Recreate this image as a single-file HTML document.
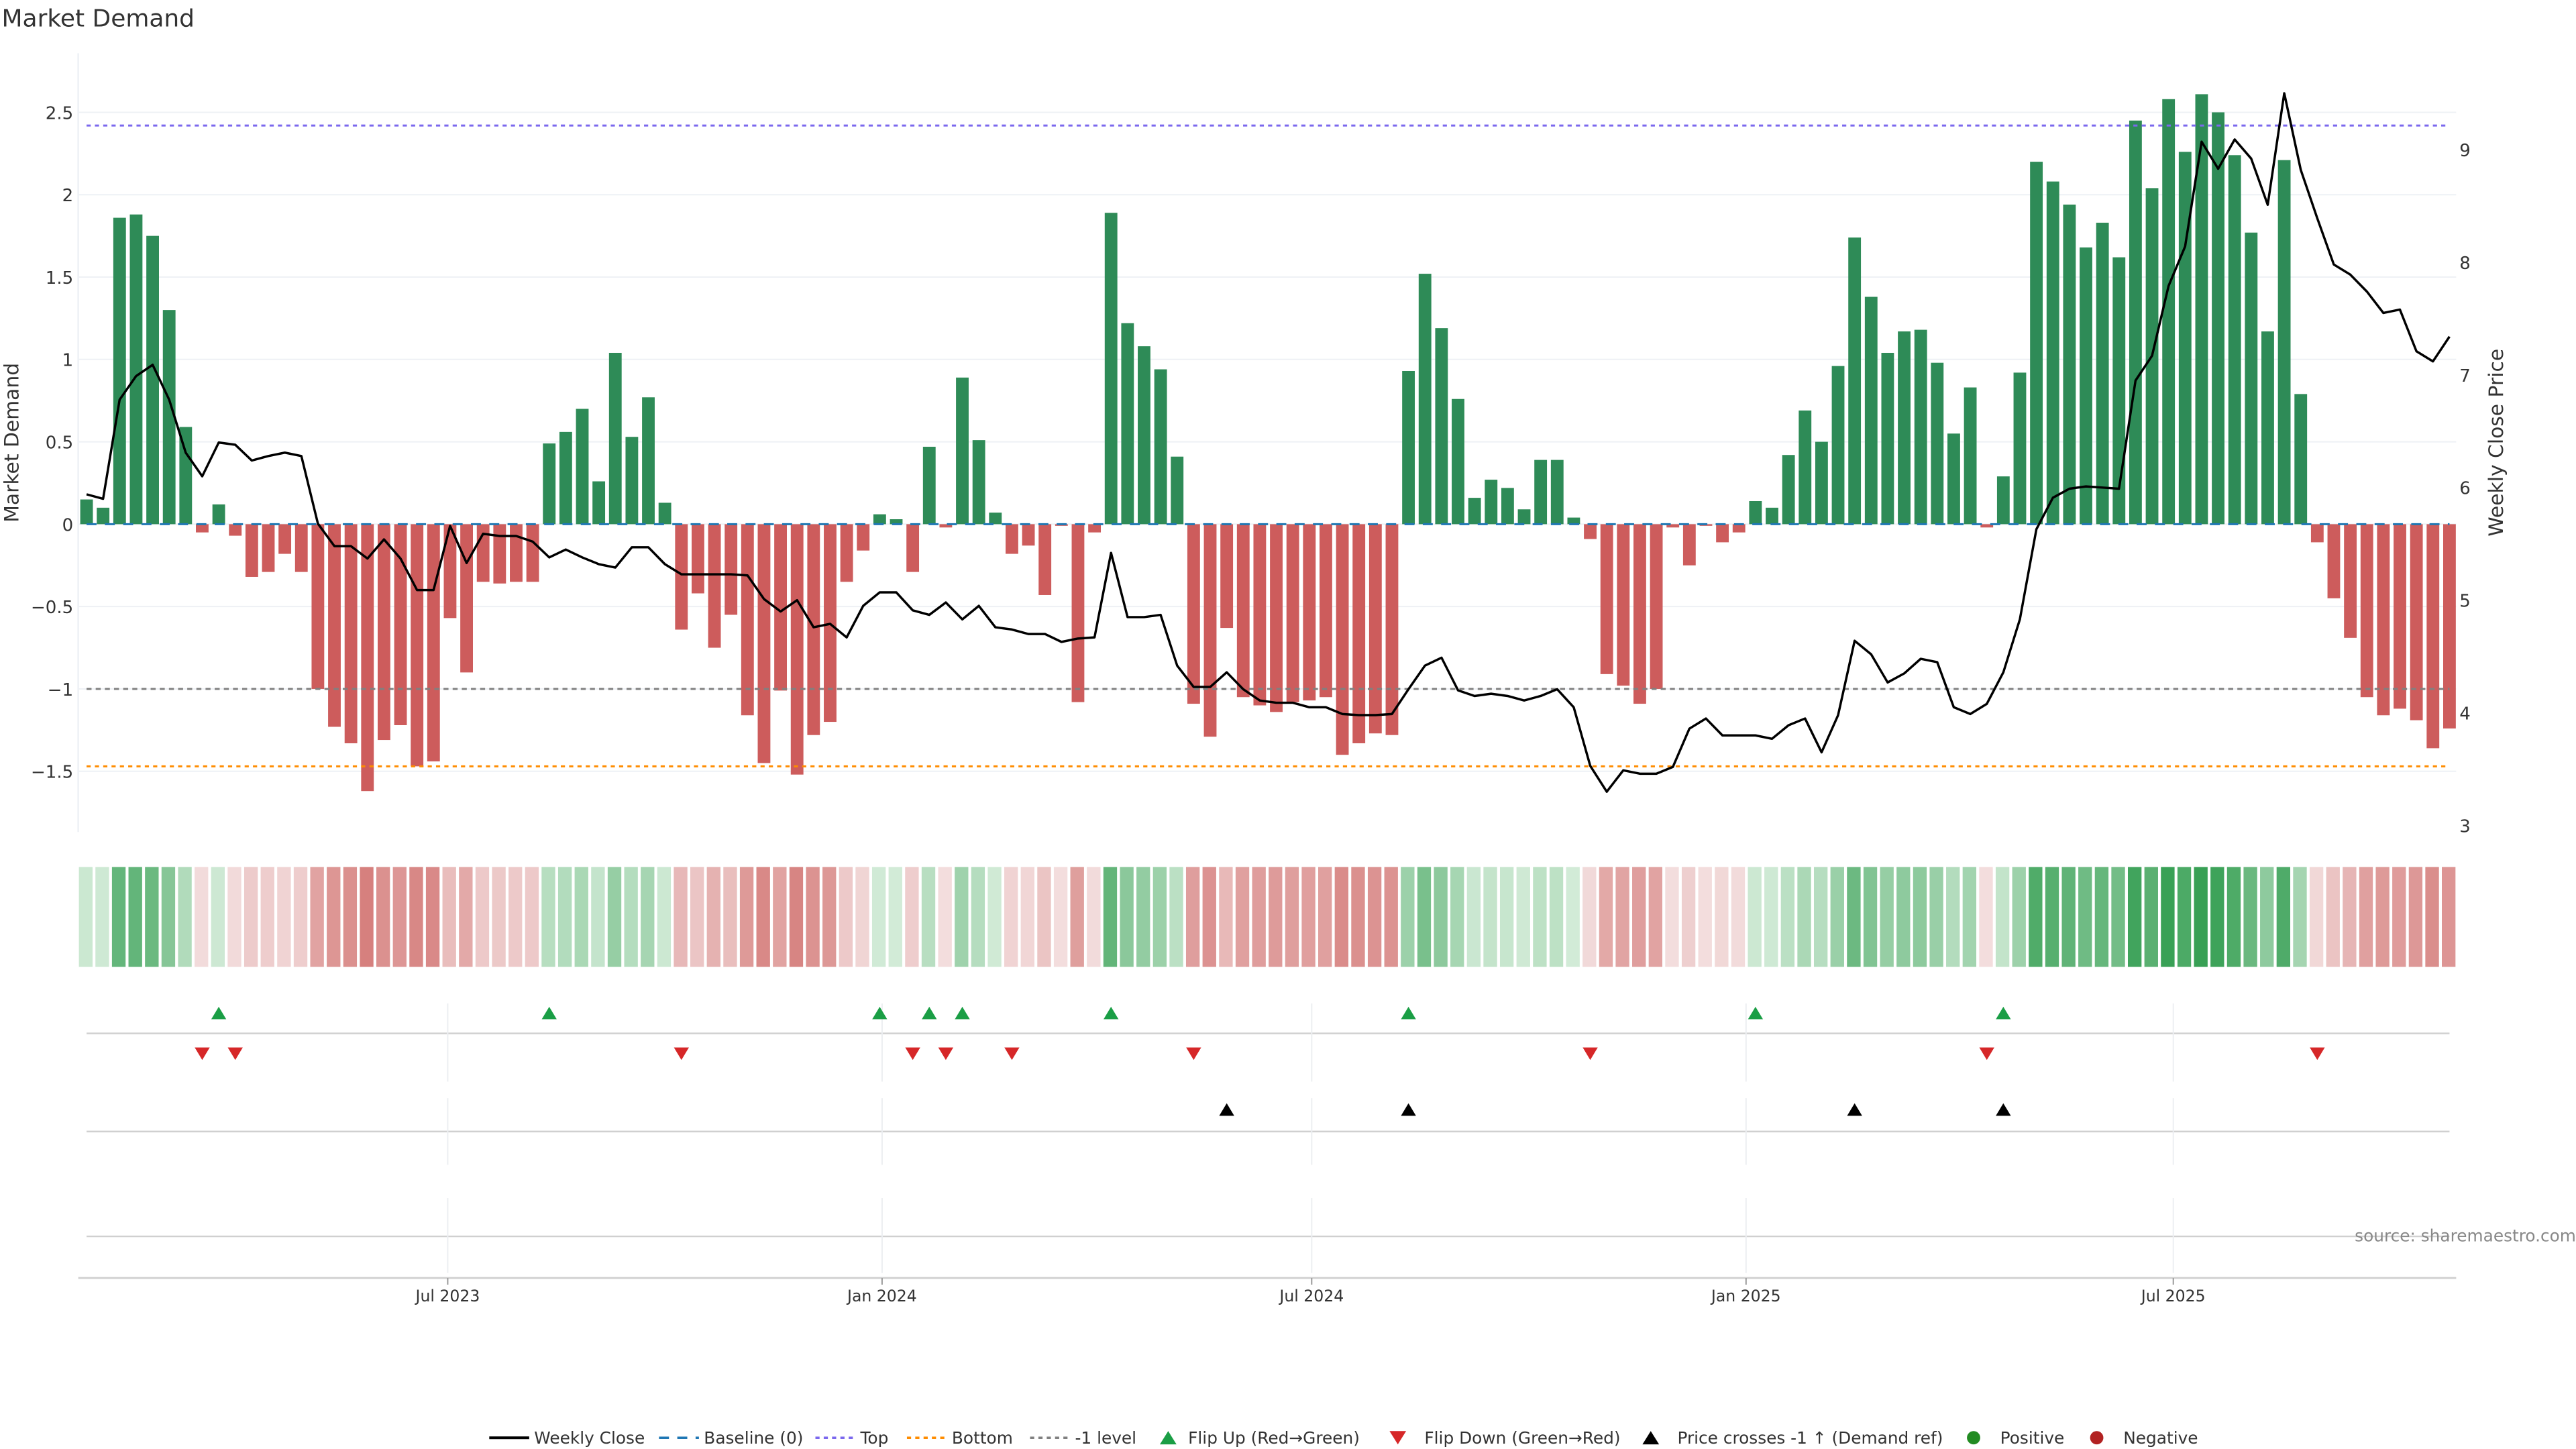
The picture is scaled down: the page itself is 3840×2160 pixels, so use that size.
<!DOCTYPE html>
<html><head><meta charset="utf-8"><title>Market Demand</title>
<style>
html,body{margin:0;padding:0;background:#fff;}
svg{display:block;font-family:"DejaVu Sans","Liberation Sans",sans-serif;}
</style></head>
<body>
<svg id="chart" width="3840" height="2160" viewBox="0 0 1548 870.77" xmlns="http://www.w3.org/2000/svg">
<text x="1" y="16" font-size="14.5" fill="#333">Market Demand</text>
<g id="grid"></g><g id="bars"></g><g id="lines"></g><g id="heat"></g><g id="events"></g><g id="axes"></g><g id="legend"></g>
</svg>
<script>
const demand=[0.15,0.10,1.86,1.88,1.75,1.30,0.59,-0.05,0.12,-0.07,-0.32,-0.29,-0.18,-0.29,-1.00,-1.23,-1.33,-1.62,-1.31,-1.22,-1.47,-1.44,-0.57,-0.90,-0.35,-0.36,-0.35,-0.35,0.49,0.56,0.70,0.26,1.04,0.53,0.77,0.13,-0.64,-0.42,-0.75,-0.55,-1.16,-1.45,-1.01,-1.52,-1.28,-1.20,-0.35,-0.16,0.06,0.03,-0.29,0.47,-0.02,0.89,0.51,0.07,-0.18,-0.13,-0.43,-0.01,-1.08,-0.05,1.89,1.22,1.08,0.94,0.41,-1.09,-1.29,-0.63,-1.05,-1.10,-1.14,-1.08,-1.07,-1.05,-1.40,-1.33,-1.27,-1.28,0.93,1.52,1.19,0.76,0.16,0.27,0.22,0.09,0.39,0.39,0.04,-0.09,-0.91,-0.98,-1.09,-1.00,-0.02,-0.25,-0.01,-0.11,-0.05,0.14,0.10,0.42,0.69,0.50,0.96,1.74,1.38,1.04,1.17,1.18,0.98,0.55,0.83,-0.02,0.29,0.92,2.20,2.08,1.94,1.68,1.83,1.62,2.45,2.04,2.58,2.26,2.61,2.50,2.24,1.77,1.17,2.21,0.79,-0.11,-0.45,-0.69,-1.05,-1.16,-1.12,-1.19,-1.36,-1.24];
const price=[5.94,5.90,6.78,6.99,7.09,6.78,6.31,6.10,6.40,6.38,6.24,6.28,6.31,6.28,5.68,5.48,5.48,5.37,5.54,5.37,5.09,5.09,5.66,5.33,5.59,5.57,5.57,5.52,5.38,5.45,5.38,5.32,5.29,5.47,5.47,5.32,5.23,5.23,5.23,5.23,5.22,5.01,4.90,5.00,4.76,4.79,4.67,4.95,5.07,5.07,4.91,4.87,4.98,4.83,4.95,4.76,4.74,4.70,4.70,4.63,4.66,4.67,5.42,4.85,4.85,4.87,4.42,4.23,4.23,4.36,4.21,4.11,4.09,4.09,4.05,4.05,3.99,3.98,3.98,3.99,4.21,4.42,4.49,4.20,4.15,4.17,4.15,4.11,4.15,4.21,4.05,3.53,3.30,3.49,3.46,3.46,3.52,3.86,3.95,3.80,3.80,3.80,3.77,3.89,3.95,3.65,3.98,4.64,4.52,4.27,4.35,4.48,4.45,4.05,3.99,4.08,4.36,4.83,5.63,5.91,5.99,6.01,6.00,5.99,6.95,7.17,7.79,8.14,9.07,8.83,9.09,8.92,8.51,9.50,8.82,8.39,7.98,7.89,7.74,7.55,7.58,7.21,7.12,7.34];
const crossUpIdx=[69,80,107,116];
const leftTicks=[-1.5,-1,-0.5,0,0.5,1,1.5,2,2.5];
const leftTickLabels=["−1.5","−1","−0.5","0","0.5","1","1.5","2","2.5"];
const rightTicks=[3,4,5,6,7,8,9];
const xTickDates=["2023-07-01","2024-01-01","2024-07-01","2025-01-01","2025-07-01"];
const xTickLabels=["Jul 2023","Jan 2024","Jul 2024","Jan 2025","Jul 2025"];
const refTop=2.42, refBottom=-1.47, refMinus1=-1;

const NS="http://www.w3.org/2000/svg";
function mk(parent,tag,attrs,text){const e=document.createElementNS(NS,tag);for(const k in attrs)e.setAttribute(k,attrs[k]);if(text!==undefined)e.textContent=text;parent.appendChild(e);return e;}
const t0=new Date("2023-01-29").getTime(), WEEK=7*864e5;
const xi=i=>52+i*9.93;
const xd=d=>52+((new Date(d).getTime()-t0)/WEEK)*9.93;
const yL=v=>315-v*99;
const yR=p=>293-(p-6)*67.7;
const X0=47,X1=1476;
const G=id=>document.getElementById(id);

const grid=G('grid');
leftTicks.forEach((v,i)=>{
  const l=mk(grid,'line',{x1:X0,x2:X1,y1:yL(v),y2:yL(v),stroke:'#eef1f5','stroke-width':0.8});
  
  
  const t=mk(grid,'text',{x:44,y:yL(v)+4,'font-size':10.5,fill:'#333','text-anchor':'end'},leftTickLabels[i]);
  
  
});
rightTicks.forEach(p=>{
  const t=mk(grid,'text',{x:1478,y:yR(p)+4,'font-size':10.5,fill:'#333'},String(p));
  
  
});
mk(grid,'line',{x1:X0,x2:X0,y1:32,y2:500,stroke:'#eef1f5','stroke-width':1});
const yt=mk(grid,'text',{x:0,y:0,'font-size':12,fill:'#333','text-anchor':'middle',transform:'translate(11,266) rotate(-90)'},'Market Demand');


const yt2=mk(grid,'text',{x:0,y:0,'font-size':12,fill:'#333','text-anchor':'middle',transform:'translate(1504,266) rotate(-90)'},'Weekly Close Price');



const bars=G('bars');
demand.forEach((v,i)=>{
  const y=Math.min(yL(v),yL(0)),h=Math.abs(yL(v)-yL(0));
  const r=mk(bars,'rect',{x:xi(i)-3.8,y:y,width:7.6,height:Math.max(h,0.5),fill:v>=0?'#2e8b57':'#cd5c5c'});
  
  
});

const lines=G('lines');
function ref(v,color,dash,name){const l=mk(lines,'line',{x1:52,x2:1472,y1:yL(v),y2:yL(v),stroke:color,'stroke-width':1.2,'stroke-dasharray':dash});
  
  }
ref(0,'#1f77b4','6 5','baseline-line');
ref(refTop,'#7b68ee','2.5 2.5','top-line');
ref(refBottom,'#ff8c00','2.5 2.5','bottom-line');
ref(refMinus1,'#808080','3 2.5','minus-one-line');
const pl=mk(lines,'polyline',{points:price.map((p,i)=>xi(i)+','+yR(p)).join(' '),fill:'none',stroke:'#000','stroke-width':1.4,'stroke-linejoin':'round'});



const heat=G('heat');
function mix(a,b,t){return 'rgb('+a.map((c,k)=>Math.round(c+(b[k]-c)*t)).join(',')+')';}
demand.forEach((v,i)=>{
  const c=v>=0?mix([212,236,217],[56,160,85],Math.min(v/2.6,1)):mix([243,222,222],[214,128,126],Math.min(-v/1.6,1));
  const r=mk(heat,'rect',{x:xi(i)-4.6,y:521,width:8.2,height:60,fill:c});
  
  
});

const ev=G('events');
[621,680,743].forEach(y=>{const l=mk(ev,'line',{x1:52,x2:1472,y1:y,y2:y,stroke:'#d0d0d0','stroke-width':1});
  
  });
xTickDates.forEach(d=>{const x=xd(d);
  [[603,650],[660,700],[720,765]].forEach(s=>mk(ev,'line',{x1:x,x2:x,y1:s[0],y2:s[1],stroke:'#eceef1','stroke-width':0.8}));});
function tri(x,y,up,color,name){const s=4.5;const pts=up?[[x-s,y+3.5],[x+s,y+3.5],[x,y-4]]:[[x-s,y-3.5],[x+s,y-3.5],[x,y+4]];
  const p=mk(ev,'polygon',{points:pts.map(q=>q.join(',')).join(' '),fill:color});
  
  }
for(let i=1;i<demand.length;i++){
  if(demand[i]>0&&demand[i-1]<=0)tri(xi(i),609,true,'#1a9e45','flip-up-marker');
  if(demand[i]<=0&&demand[i-1]>0)tri(xi(i),633,false,'#d62728','flip-down-marker');
}
crossUpIdx.forEach(i=>tri(xi(i),667,true,'#000','price-cross-marker'));

const ax=G('axes');
mk(ax,'line',{x1:X0,x2:X1,y1:768,y2:768,stroke:'#d0d0d0','stroke-width':1.2});
xTickDates.forEach((d,i)=>{const x=xd(d);
  mk(ax,'line',{x1:x,x2:x,y1:768,y2:772,stroke:'#999','stroke-width':0.8});
  const t=mk(ax,'text',{x:x,y:782,'font-size':9.5,fill:'#333','text-anchor':'middle'},xTickLabels[i]);
  
  });
const src=mk(ax,'text',{x:1548,y:746,'font-size':10,fill:'#888','text-anchor':'end'},'source: sharemaestro.com');



const lg=G('legend');const LY=864;
function ltext(x,s){const t=mk(lg,'text',{x:x,y:LY+3.5,'font-size':10,fill:'#333'},s);
  
  }
mk(lg,'line',{x1:294,x2:318,y1:LY,y2:LY,stroke:'#000','stroke-width':1.6});ltext(321,'Weekly Close');
mk(lg,'line',{x1:396,x2:420,y1:LY,y2:LY,stroke:'#1f77b4','stroke-width':1.4,'stroke-dasharray':'6 5'});ltext(423,'Baseline (0)');
mk(lg,'line',{x1:490,x2:514,y1:LY,y2:LY,stroke:'#7b68ee','stroke-width':1.4,'stroke-dasharray':'2.5 2.5'});ltext(517,'Top');
mk(lg,'line',{x1:545,x2:569,y1:LY,y2:LY,stroke:'#ff8c00','stroke-width':1.4,'stroke-dasharray':'2.5 2.5'});ltext(572,'Bottom');
mk(lg,'line',{x1:619,x2:643,y1:LY,y2:LY,stroke:'#808080','stroke-width':1.4,'stroke-dasharray':'2.5 2.5'});ltext(646,'-1 level');
mk(lg,'polygon',{points:`697,${LY+4} 707,${LY+4} 702,${LY-4}`,fill:'#1a9e45'});ltext(714,'Flip Up (Red→Green)');
mk(lg,'polygon',{points:`835,${LY-4} 845,${LY-4} 840,${LY+4}`,fill:'#d62728'});ltext(856,'Flip Down (Green→Red)');
mk(lg,'polygon',{points:`987,${LY+4} 997,${LY+4} 992,${LY-4}`,fill:'#000'});ltext(1008,'Price crosses -1 ↑ (Demand ref)');
mk(lg,'circle',{cx:1186,cy:LY,r:4,fill:'#228b22'});ltext(1202,'Positive');
mk(lg,'circle',{cx:1260,cy:LY,r:4,fill:'#b22222'});ltext(1276,'Negative');
</script>
</body></html>
